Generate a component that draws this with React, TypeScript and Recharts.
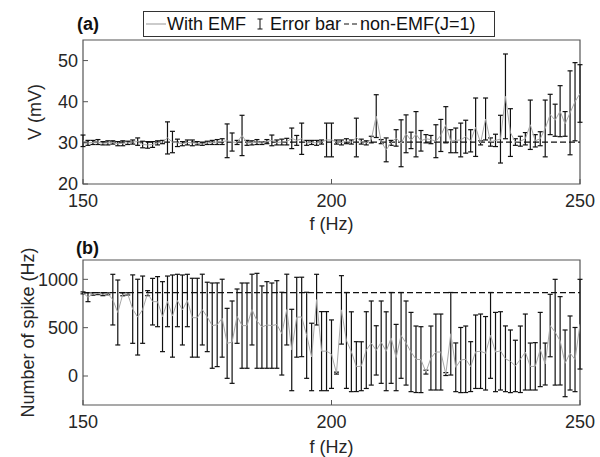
import { ComposedChart, ErrorBar, Line, ReferenceArea, ReferenceLine, XAxis, YAxis } from "recharts";

const FREQ = [
  150, 151, 152, 153, 154, 155, 156, 157, 158, 159,
  160, 161, 162, 163, 164, 165, 166, 167, 168, 169,
  170, 171, 172, 173, 174, 175, 176, 177, 178, 179,
  180, 181, 182, 183, 184, 185, 186, 187, 188, 189,
  190, 191, 192, 193, 194, 195, 196, 197, 198, 199,
  200, 201, 202, 203, 204, 205, 206, 207, 208, 209,
  210, 211, 212, 213, 214, 215, 216, 217, 218, 219,
  220, 221, 222, 223, 224, 225, 226, 227, 228, 229,
  230, 231, 232, 233, 234, 235, 236, 237, 238, 239,
  240, 241, 242, 243, 244, 245, 246, 247, 248, 249,
  250,
];

// (a) membrane potential, mean and error
const V_MEAN = [
  30.5, 30.0, 30.1, 30.2, 29.9, 30.0, 30.1, 29.8, 29.9, 30.0,
  30.2, 30.3, 29.6, 29.5, 29.6, 30.0, 30.2, 31.2, 30.2, 30.0,
  29.8, 30.1, 30.0, 29.9, 29.7, 30.0, 30.1, 30.2, 30.3, 30.5,
  30.2, 30.1, 31.8, 30.0, 30.0, 30.2, 29.9, 30.3, 30.6, 30.1,
  30.2, 30.3, 31.1, 30.6, 31.0, 30.0, 30.1, 30.0, 30.2, 30.7,
  30.7, 30.2, 30.1, 30.4, 30.2, 31.3, 30.3, 30.0, 30.8, 36.5,
  30.3, 28.3, 30.0, 31.2, 29.9, 32.2, 30.6, 32.1, 30.5, 31.0,
  30.8, 30.4, 31.8, 34.4, 30.4, 30.6, 30.7, 31.5, 30.5, 33.8,
  30.0, 35.8, 30.2, 30.6, 30.9, 41.3, 32.5, 30.2, 30.4, 31.0,
  34.4, 30.5, 31.0, 33.5, 36.9, 35.5, 37.7, 34.6, 37.3, 40.0,
  42.0,
];
const V_ERR = [
  1.4, 0.6, 0.5, 0.6, 0.4, 0.5, 0.4, 0.5, 0.6, 0.4,
  0.5, 0.9, 0.8, 0.8, 0.7, 0.5, 0.4, 3.9, 2.6, 0.9,
  0.5, 0.6, 0.7, 0.4, 0.3, 0.4, 0.5, 0.6, 0.7, 4.1,
  2.2, 0.5, 4.9, 0.6, 0.5, 0.6, 0.3, 0.5, 1.3, 0.6,
  0.7, 0.8, 2.5, 1.2, 3.8, 0.6, 0.5, 0.6, 0.5, 4.1,
  4.1, 0.5, 0.6, 0.6, 0.5, 4.7, 0.6, 0.5, 0.8, 5.2,
  0.5, 2.9, 0.6, 2.0, 5.7, 4.6, 2.0, 5.5, 2.5, 1.0,
  1.0, 4.0, 3.9, 4.4, 2.8, 3.0, 4.1, 4.0, 2.7, 7.1,
  0.5, 5.1, 1.0, 1.5, 5.8, 10.3, 5.8, 0.8, 1.2, 1.5,
  6.0, 1.5, 1.7, 6.9, 4.9, 3.9, 6.2, 3.0, 10.2, 9.5,
  7.0,
];

// (b) number of spikes, mean and error
const SPIKE_MEAN = [
  860, 815, 848, 852, 845, 850, 790, 657, 845, 850,
  692, 609, 686, 857, 769, 769, 614, 772, 620, 781,
  683, 781, 603, 603, 687, 611, 521, 530, 598, 338,
  350, 619, 521, 521, 687, 571, 506, 528, 521, 533,
  438, 687, 269, 608, 611, 421, 197, 790, 257, 257,
  226, 30, 684, 368, 251, 97, 101, 268, 341, 265,
  350, 256, 394, 191, 420, 341, 248, 173, 169, 40,
  186, 248, 248, 20, 437, 90, 165, 173, 97, 251,
  256, 235, 420, 248, 260, 178, 152, 104, 173, 248,
  98, 100, 274, 124, 522, 453, 364, 131, 238, 170,
  536,
];
const SPIKE_ERR = [
  10, 46, 12, 10, 14, 10, 262, 336, 15, 12,
  354, 392, 348, 26, 241, 259, 362, 262, 425, 271,
  362, 271, 408, 408, 366, 359, 441, 433, 403, 362,
  426, 281, 441, 441, 366, 491, 426, 448, 441, 453,
  428, 366, 421, 413, 411, 445, 349, 262, 409, 409,
  354, 10, 354, 496, 413, 258, 253, 397, 435, 255,
  426, 408, 470, 343, 444, 435, 410, 344, 341, 20,
  331, 393, 393, 15, 427, 252, 337, 344, 258, 380,
  385, 380, 444, 410, 405, 340, 324, 266, 344, 393,
  243, 245, 384, 217, 323, 547, 457, 345, 383, 332,
  464,
];

const V_NON_EMF = 30.2;
const SPIKE_NON_EMF = 862;

const X_TICKS = [150, 200, 250];
const V_TICKS = [20, 30, 40, 50];
const SPIKE_TICKS = [0, 500, 1000];

const FONT = "Arial, 'Liberation Sans', Helvetica, sans-serif";
const AXIS = "#555555";
const TEXT = "#262626";
const GREY = "#a8a8a8";

const vData = FREQ.map((f, i) => ({ f, mean: V_MEAN[i], err: V_ERR[i] }));
const spikeData = FREQ.map((f, i) => ({ f, mean: SPIKE_MEAN[i], err: SPIKE_ERR[i] }));

type PanelProps = {
  data: { f: number; mean: number; err: number }[];
  yDomain: [number, number];
  yTicks: number[];
  yLabel: string;
  refY: number;
  height: number;
  top: number;
  xAxisHeight: number;
  xTickMargin: number;
  xLabelOffset: number;
  yLabelOffset: number;
};

function Panel(p: PanelProps) {
  return (
    <ComposedChart
      width={600}
      height={p.height}
      data={p.data}
      margin={{ top: p.top, right: 20, bottom: 0, left: 23 }}
    >
      <XAxis
        dataKey="f"
        type="number"
        domain={[150, 250]}
        ticks={X_TICKS}
        allowDataOverflow
        axisLine={false}
        tickLine={{ stroke: AXIS }}
        tickSize={-5}
        tickMargin={p.xTickMargin}
        height={p.xAxisHeight}
        tick={{ fill: TEXT, fontSize: 18 }}
        label={{ value: "f (Hz)", position: "insideBottom", offset: p.xLabelOffset, fill: TEXT, fontSize: 18 }}
      />
      <YAxis
        type="number"
        domain={p.yDomain}
        ticks={p.yTicks}
        allowDataOverflow
        axisLine={false}
        tickLine={{ stroke: AXIS }}
        tickSize={-5}
        tickMargin={10}
        width={60}
        tick={{ fill: TEXT, fontSize: 18 }}
        label={{
          value: p.yLabel,
          angle: -90,
          position: "insideLeft",
          offset: p.yLabelOffset,
          fill: TEXT,
          fontSize: 18,
          style: { textAnchor: "middle" },
        }}
      />
      <ReferenceArea
        x1={150}
        x2={250}
        y1={p.yDomain[0]}
        y2={p.yDomain[1]}
        fill="none"
        stroke={AXIS}
        strokeWidth={1.2}
        ifOverflow="visible"
      />
      <ReferenceLine y={p.refY} stroke="#111" strokeWidth={1.3} strokeDasharray="6 3" />
      <Line dataKey="mean" stroke={GREY} strokeWidth={1} dot={false} isAnimationActive={false}>
        <ErrorBar dataKey="err" width={2.5} stroke="#111" strokeWidth={1.2} isAnimationActive={false} />
      </Line>
    </ComposedChart>
  );
}

function LegendBox() {
  return (
    <div
      style={{
        position: "absolute",
        left: 143,
        top: 11,
        width: 350,
        height: 24,
        border: "1px solid #333",
        background: "#fff",
        display: "flex",
        alignItems: "center",
        fontSize: 18,
        color: "#111",
        whiteSpace: "nowrap",
      }}
    >
      <svg width={20} height={10} style={{ marginLeft: 2 }}>
        <line x1={0} y1={5} x2={20} y2={5} stroke={GREY} strokeWidth={1.2} />
      </svg>
      <span style={{ marginLeft: 1 }}>With EMF</span>
      <svg width={6} height={12} style={{ marginLeft: 11 }}>
        <line x1={3} y1={1} x2={3} y2={11} stroke="#111" strokeWidth={1} />
        <line x1={0.5} y1={1} x2={5.5} y2={1} stroke="#111" strokeWidth={1} />
        <line x1={0.5} y1={11} x2={5.5} y2={11} stroke="#111" strokeWidth={1} />
      </svg>
      <span style={{ marginLeft: 7 }}>Error bar</span>
      <svg width={16} height={10} style={{ marginLeft: 2 }}>
        <line x1={1} y1={5} x2={16} y2={5} stroke="#111" strokeWidth={1.2} strokeDasharray="5 3" />
      </svg>
      <span style={{ marginLeft: 1 }}>non-EMF(J=1)</span>
    </div>
  );
}

export default function App() {
  return (
    <div
      style={{
        position: "absolute",
        left: 0,
        top: 0,
        width: 600,
        height: 457,
        background: "#fff",
        fontFamily: FONT,
        overflow: "hidden",
      }}
    >
      <div style={{ position: "absolute", left: 0, top: 0 }}>
        <Panel
          data={vData}
          yDomain={[20, 55]}
          yTicks={V_TICKS}
          yLabel="V (mV)"
          refY={V_NON_EMF}
          height={237}
          top={40}
          xAxisHeight={53}
          xTickMargin={15}
          xLabelOffset={7}
          yLabelOffset={12}
        />
      </div>
      <div style={{ position: "absolute", left: 0, top: 230 }}>
        <Panel
          data={spikeData}
          yDomain={[-300, 1200]}
          yTicks={SPIKE_TICKS}
          yLabel="Number of spike (Hz)"
          refY={SPIKE_NON_EMF}
          height={227}
          top={30}
          xAxisHeight={52}
          xTickMargin={15}
          xLabelOffset={4}
          yLabelOffset={5}
        />
      </div>
      <div style={{ position: "absolute", left: 77, top: 14, fontSize: 18, fontWeight: "bold", color: "#111" }}>(a)</div>
      <div style={{ position: "absolute", left: 76, top: 238, fontSize: 18, fontWeight: "bold", color: "#111" }}>(b)</div>
      <LegendBox />
    </div>
  );
}
